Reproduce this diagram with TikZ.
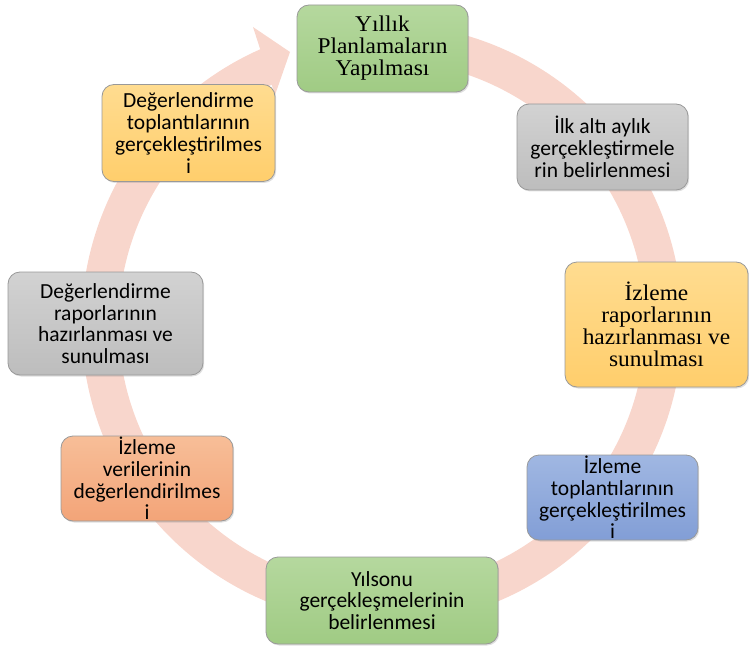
\documentclass[tikz,border=0pt]{standalone}
\usepackage{fontspec}
\newfontfamily\sansf{Carlito}
\newfontfamily\seriff[FakeStretch=1.04]{Liberation Serif}
\usetikzlibrary{shadows,calc}
\definecolor{ringc}{HTML}{F8D6CC}
\definecolor{greenT}{HTML}{B5D89E}
\definecolor{greenB}{HTML}{A0CB84}
\definecolor{grayT}{HTML}{D2D2D2}
\definecolor{grayB}{HTML}{BDBDBD}
\definecolor{yelT}{HTML}{FFDC90}
\definecolor{yelB}{HTML}{FFCE6C}
\definecolor{blueT}{HTML}{A0B7E2}
\definecolor{blueB}{HTML}{829ED6}
\definecolor{salT}{HTML}{F7BE98}
\definecolor{salB}{HTML}{F3A478}
\begin{document}
\begin{tikzpicture}[x=1pt,y=1pt,
  box/.style={rounded corners=12pt, draw=black!40, line width=0.8pt, align=center, inner sep=0pt,
    drop shadow={shadow xshift=1.2pt, shadow yshift=-1.5pt, opacity=0.25}},
  sf/.style={font=\sansf\fontsize{21.5}{21.7}\selectfont},
  rm/.style={font=\seriff\fontsize{22.5}{22}\selectfont},
  greenbox/.style={top color=greenT, bottom color=greenB},
  graybox/.style={top color=grayT, bottom color=grayB},
  yelbox/.style={top color=yelT, bottom color=yelB},
  bluebox/.style={top color=blueT, bottom color=blueB},
  salbox/.style={top color=salT, bottom color=salB},
  ring/.style={draw=ringc, line width=37pt}
]
\useasboundingbox (0,0) rectangle (749,649);
\coordinate (c) at (382,325);
% circular arrow
\draw[ring] ($(c)+(92:282)$) arc[start angle=92, end angle=-247, radius=282];
\fill[ringc] (253,622) -- (290,597) -- (275,554) -- cycle;

\node[box, greenbox, rm, minimum width=171pt, minimum height=87pt] (plan) at (382.5,600.5) {Yıllık\\Planlamaların\\Yapılması};
\node[box, graybox, sf, minimum width=171pt, minimum height=86pt] (ilk) at (602.5,502) {İlk altı aylık\\gerçekleştirmele\\rin belirlenmesi};
\node[box, yelbox, rm, minimum width=183pt, minimum height=125pt] (izrap) at (656.5,324.5) {İzleme\\raporlarının\\hazırlanması ve\\sunulması};
\node[box, bluebox, sf, minimum width=171pt, minimum height=85pt] (iztop) at (612.5,151.5) {İzleme\\toplantılarının\\gerçekleştirilmes\\i};
\node[box, greenbox, sf, minimum width=232pt, minimum height=87pt] (yil) at (382,48.5) {Yılsonu\\gerçekleşmelerinin\\belirlenmesi};
\node[box, salbox, sf, minimum width=172pt, minimum height=85pt] (izver) at (147,170.5) {İzleme\\verilerinin\\değerlendirilmes\\i};
\node[box, graybox, sf, minimum width=195pt, minimum height=103pt] (degrap) at (105.5,325.5) {Değerlendirme\\raporlarının\\hazırlanması ve\\sunulması};
\node[box, yelbox, sf, minimum width=173pt, minimum height=97pt] (degtop) at (188.5,516) {Değerlendirme\\toplantılarının\\gerçekleştirilmes\\i};
\end{tikzpicture}
\end{document}
